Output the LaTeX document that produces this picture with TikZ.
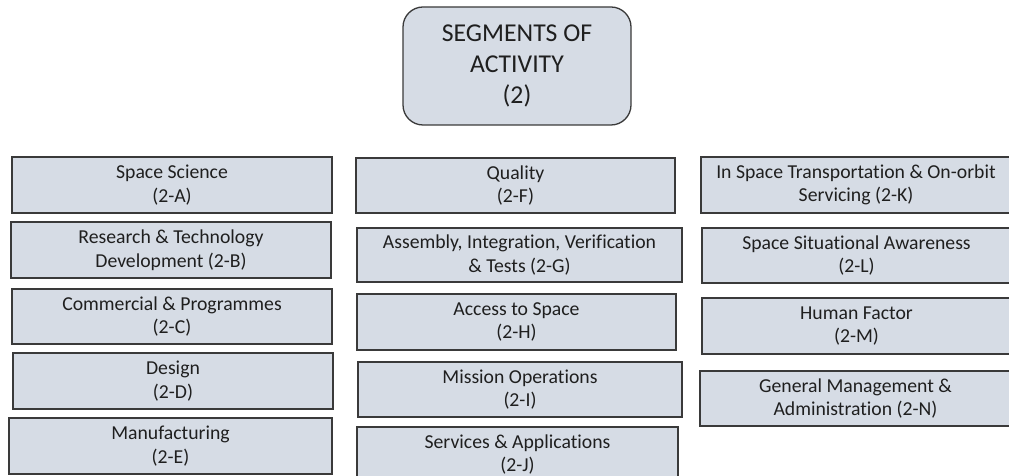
\documentclass[tikz,border=0pt]{standalone}
\usepackage{fontspec}
\setmainfont[Ligatures=NoCommon]{Carlito}
\definecolor{boxfill}{HTML}{D6DCE5}
\definecolor{boxline}{HTML}{3A3A3A}
\definecolor{txt}{HTML}{1F1F1F}
\begin{document}
\begin{tikzpicture}[x=1bp, y=-1bp,
    segbox/.style={draw=boxline, fill=boxfill, line width=1.3bp, text=txt, align=center,
        minimum width=320bp, minimum height=56bp, inner sep=0pt,
        font=\fontsize{19.8}{23.6}\selectfont},
    headbox/.style={segbox, rounded corners=20bp, minimum width=228bp, minimum height=118bp,
        font=\fontsize{25.8}{31}\selectfont}]
    \useasboundingbox (0,0) rectangle (1009,476);

    % Heading
    \node[headbox] (seg) at (517,66) {SEGMENTS OF\\ACTIVITY\\(2)};

    % Column 1
    \node[segbox] (sa) at (172,185) {Space Science\\(2-A)};
    \node[segbox] (sb) at (171,250) {Research \& Technology\\Development (2-B)};
    \node[segbox, minimum height=55bp] (sc) at (172,316.5) {Commercial \& Programmes\\(2-C)};
    \node[segbox] (sd) at (173,381) {Design\\(2-D)};
    \node[segbox, minimum width=323bp] (se) at (170.5,446) {Manufacturing\\(2-E)};

    % Column 2
    \node[segbox, minimum width=319bp, minimum height=55bp] (sf) at (515.5,185.5) {Quality\\(2-F)};
    \node[segbox, minimum width=325bp, minimum height=54bp] (sg) at (519.5,255) {Assembly, Integration, Verification\\\& Tests (2-G)};
    \node[segbox, minimum width=319bp] (sh) at (516.5,322) {Access to Space\\(2-H)};
    \node[segbox, minimum width=324bp, minimum height=55bp] (si) at (520,389.5) {Mission Operations\\(2-I)};
    \node[segbox, minimum width=321bp, minimum height=55bp] (sj) at (517.5,454.5) {Services \& Applications\\(2-J)};

    % Column 3
    \node[segbox, minimum width=310bp] (sk) at (856,185) {In Space Transportation \& On-orbit\\Servicing (2-K)};
    \node[segbox, minimum width=309bp, minimum height=55bp] (sl) at (856.5,255.5) {Space Situational Awareness\\(2-L)};
    \node[segbox, minimum width=309bp] (sm) at (856.5,326) {Human Factor\\(2-M)};
    \node[segbox, minimum width=311bp, minimum height=55bp] (sn) at (855.5,398.5) {General Management \&\\Administration (2-N)};
\end{tikzpicture}
\end{document}
